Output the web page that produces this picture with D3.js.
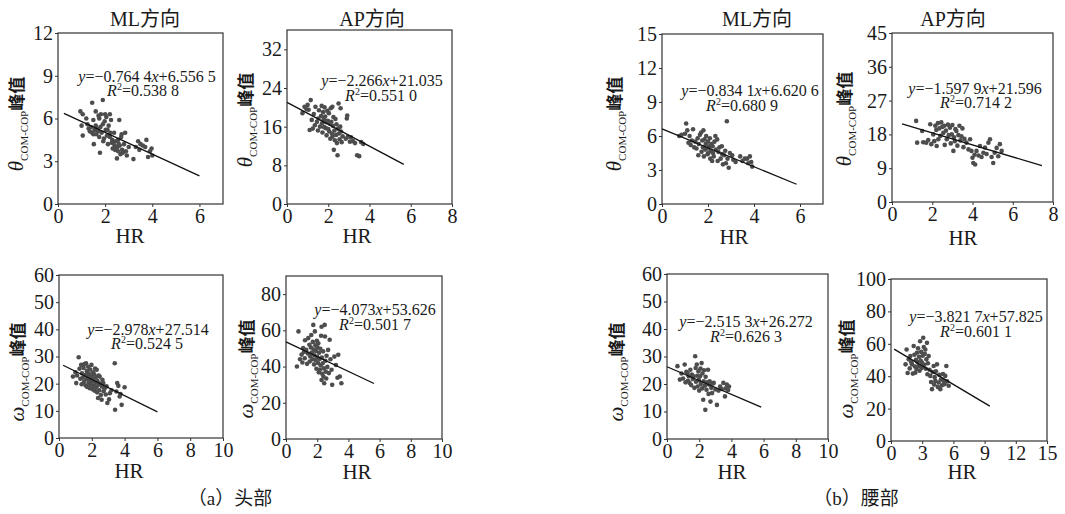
<!DOCTYPE html>
<html>
<head>
<meta charset="utf-8">
<script src="https://cdn.jsdelivr.net/npm/d3@7"></script>
<style>
  html, body { margin: 0; padding: 0; background: #fff; }
  svg text { font-family: "Liberation Serif", "Times New Roman", "Noto Sans CJK SC", serif; fill: #1a1a1a; }
</style>
</head>
<body>
<svg id="chart" width="1065" height="514"></svg>
<script>
// HR vs peak values (approx.)
var headThetaML = [[0.95,6.5],[1.05,6.3],[1.0,5.5],[1.05,4.8],[1.2,6.0],[1.25,5.6],[1.3,5.3],[1.35,5.1],[1.4,5.4],[1.45,7.1],[1.45,5.0],[1.5,5.9],[1.5,4.9],[1.52,4.2],[1.55,5.2],[1.6,6.5],[1.6,5.5],[1.62,4.9],[1.65,5.3],[1.7,5.1],[1.72,6.2],[1.75,6.0],[1.75,4.7],[1.78,3.6],[1.8,5.4],[1.82,6.3],[1.85,5.0],[1.9,7.3],[1.9,5.6],[1.92,4.4],[1.95,4.6],[1.98,5.8],[2.0,6.3],[2.02,5.2],[2.05,6.1],[2.08,4.8],[2.1,5.2],[2.12,4.2],[2.15,5.5],[2.2,6.3],[2.2,4.7],[2.22,5.0],[2.25,5.9],[2.28,4.3],[2.3,4.5],[2.32,3.9],[2.35,4.3],[2.38,5.0],[2.4,4.1],[2.42,3.8],[2.45,4.4],[2.48,3.9],[2.5,3.2],[2.52,4.0],[2.55,4.5],[2.55,3.7],[2.58,4.2],[2.6,5.9],[2.62,4.1],[2.65,3.5],[2.68,4.7],[2.7,4.9],[2.72,3.8],[2.75,3.6],[2.8,4.2],[2.85,5.0],[2.88,3.7],[2.92,3.4],[3.0,4.0],[3.2,3.15],[3.3,4.0],[3.4,4.4],[3.45,3.8],[3.5,4.2],[3.6,4.1],[3.7,4.0],[3.75,4.5],[3.82,3.3],[3.9,3.7],[3.97,3.9],[4.0,3.4]];
var headThetaAP = [[0.75,18.8],[0.85,20.1],[0.95,19.6],[1.0,20.5],[1.05,19.5],[1.1,15.3],[1.15,21.5],[1.2,17.4],[1.25,15.6],[1.3,18.6],[1.35,16.3],[1.38,20.1],[1.45,17.0],[1.5,15.2],[1.52,17.7],[1.55,19.4],[1.6,16.0],[1.65,18.2],[1.68,20.3],[1.7,16.7],[1.72,14.8],[1.75,19.0],[1.78,17.5],[1.8,15.9],[1.82,20.0],[1.85,18.1],[1.88,15.7],[1.9,16.9],[1.92,14.2],[1.95,19.3],[1.98,17.2],[2.0,15.5],[2.03,18.8],[2.05,15.0],[2.08,16.6],[2.1,13.5],[2.12,19.8],[2.15,17.0],[2.18,14.6],[2.2,20.1],[2.2,13.9],[2.22,16.2],[2.25,18.0],[2.27,11.2],[2.3,15.2],[2.32,13.2],[2.35,17.6],[2.38,14.3],[2.4,16.5],[2.42,12.6],[2.45,10.1],[2.48,15.6],[2.5,20.8],[2.52,14.6],[2.55,13.4],[2.58,16.0],[2.6,19.8],[2.62,15.0],[2.65,12.8],[2.7,14.0],[2.85,13.5],[2.9,17.7],[2.92,18.3],[2.95,13.9],[3.05,12.9],[3.1,13.8],[3.2,13.0],[3.3,12.6],[3.4,10.1],[3.5,9.9],[3.6,12.8],[3.7,12.4]];
var headOmegaML = [[0.85,22.6],[1.0,24.2],[1.05,20.2],[1.1,23.0],[1.2,29.7],[1.25,25.5],[1.3,21.8],[1.35,26.9],[1.38,19.8],[1.4,23.8],[1.45,22.2],[1.5,25.8],[1.52,20.6],[1.55,27.2],[1.6,23.2],[1.62,19.3],[1.65,27.5],[1.68,21.6],[1.7,24.6],[1.72,18.8],[1.75,22.8],[1.78,26.2],[1.8,20.2],[1.82,23.6],[1.85,21.2],[1.88,18.3],[1.9,25.2],[1.92,22.0],[1.95,19.6],[1.98,26.9],[2.0,23.0],[2.02,20.8],[2.05,17.9],[2.08,24.2],[2.1,21.6],[2.12,19.2],[2.15,23.4],[2.18,17.4],[2.2,25.6],[2.22,20.4],[2.25,22.4],[2.28,18.6],[2.3,25.1],[2.32,16.8],[2.35,21.0],[2.38,14.7],[2.4,19.6],[2.42,23.0],[2.45,17.6],[2.48,22.6],[2.5,20.0],[2.55,15.8],[2.6,14.1],[2.62,19.0],[2.65,21.4],[2.7,20.2],[2.72,17.2],[2.78,18.2],[2.85,16.0],[2.9,19.0],[2.95,12.9],[3.05,14.2],[3.1,16.5],[3.2,17.6],[3.4,27.5],[3.42,10.4],[3.5,17.1],[3.55,20.2],[3.62,19.2],[3.7,15.3],[3.75,16.2],[3.82,12.2],[4.0,18.7]];
var headOmegaAP = [[0.7,40.0],[0.8,59.4],[0.9,44.0],[1.0,46.6],[1.05,42.2],[1.1,50.2],[1.15,48.0],[1.2,44.6],[1.22,54.5],[1.3,49.2],[1.35,41.5],[1.4,47.2],[1.43,55.7],[1.5,52.0],[1.52,42.8],[1.55,45.6],[1.6,50.5],[1.62,57.4],[1.65,47.8],[1.7,44.0],[1.72,53.6],[1.75,63.0],[1.78,49.4],[1.8,41.2],[1.82,46.2],[1.85,59.4],[1.88,51.8],[1.9,43.6],[1.92,48.6],[1.95,38.8],[1.98,54.2],[2.0,45.4],[2.02,50.6],[2.05,42.0],[2.07,52.9],[2.1,36.8],[2.12,47.6],[2.15,44.2],[2.17,38.2],[2.2,49.8],[2.22,40.6],[2.25,57.0],[2.28,62.0],[2.28,32.6],[2.3,45.0],[2.32,36.0],[2.35,41.8],[2.38,48.4],[2.4,34.5],[2.42,39.0],[2.45,30.8],[2.48,63.0],[2.5,56.6],[2.52,43.2],[2.55,37.2],[2.58,33.4],[2.6,46.0],[2.65,39.8],[2.7,49.2],[2.75,36.4],[2.8,54.8],[2.85,44.0],[2.92,38.2],[2.96,29.9],[3.1,45.5],[3.2,40.9],[3.3,33.8],[3.35,46.5],[3.45,34.5],[3.55,30.8]];
var waistThetaML = [[0.75,6.0],[0.85,6.1],[1.0,6.2],[1.05,7.1],[1.1,6.5],[1.15,5.4],[1.2,6.0],[1.25,5.2],[1.3,5.6],[1.35,6.6],[1.4,5.0],[1.45,5.5],[1.5,4.9],[1.55,5.8],[1.58,4.3],[1.6,5.3],[1.65,6.1],[1.7,6.3],[1.72,4.6],[1.75,5.6],[1.78,5.0],[1.8,6.5],[1.82,4.2],[1.85,5.7],[1.88,4.8],[1.9,5.3],[1.92,6.0],[1.95,4.9],[1.98,4.4],[2.0,5.5],[2.02,4.5],[2.05,5.1],[2.08,5.8],[2.1,4.0],[2.12,4.7],[2.15,5.3],[2.18,3.8],[2.2,5.1],[2.22,4.5],[2.25,4.2],[2.28,5.5],[2.32,6.0],[2.35,4.8],[2.4,5.7],[2.42,3.8],[2.45,4.6],[2.5,5.0],[2.55,4.0],[2.6,5.1],[2.62,4.4],[2.65,3.5],[2.7,4.3],[2.75,4.7],[2.78,3.6],[2.82,7.3],[2.85,4.0],[2.9,3.2],[2.95,4.5],[3.05,4.3],[3.1,3.9],[3.2,3.7],[3.4,4.2],[3.5,3.8],[3.6,4.0],[3.7,4.0],[3.75,3.6],[3.82,4.2],[3.88,3.7],[3.92,3.3]];
var waistThetaAP = [[1.2,21.6],[1.25,15.8],[1.5,18.9],[1.55,15.9],[1.7,15.8],[1.8,16.5],[1.9,20.7],[1.95,15.4],[2.05,18.0],[2.1,16.2],[2.15,20.3],[2.2,19.2],[2.22,14.9],[2.28,21.0],[2.3,16.7],[2.35,19.6],[2.4,17.6],[2.45,21.2],[2.5,20.0],[2.55,18.4],[2.6,20.3],[2.62,15.2],[2.68,19.0],[2.72,16.7],[2.78,20.6],[2.82,17.8],[2.88,19.8],[2.92,15.6],[2.97,18.0],[3.0,20.5],[3.05,13.6],[3.08,17.2],[3.12,16.2],[3.15,19.4],[3.2,18.9],[3.25,15.0],[3.3,17.8],[3.35,20.3],[3.4,16.4],[3.45,17.5],[3.5,19.6],[3.55,14.6],[3.6,16.8],[3.7,15.8],[3.8,14.0],[3.88,16.7],[3.95,13.6],[4.0,11.8],[4.04,10.4],[4.1,12.6],[4.13,10.0],[4.2,13.6],[4.3,12.4],[4.37,14.9],[4.45,12.0],[4.54,13.1],[4.62,14.5],[4.7,12.8],[4.79,15.8],[4.87,16.7],[4.95,12.0],[5.03,10.4],[5.1,13.1],[5.2,14.4],[5.28,12.2],[5.36,15.4],[5.45,13.6]];
var waistOmegaML = [[0.65,26.5],[0.8,21.6],[0.9,23.8],[1.0,22.0],[1.1,27.1],[1.15,20.6],[1.2,24.4],[1.28,24.0],[1.3,21.2],[1.35,22.8],[1.4,20.4],[1.45,25.2],[1.5,19.6],[1.55,23.4],[1.6,21.8],[1.65,22.8],[1.7,18.6],[1.75,30.1],[1.78,25.8],[1.8,20.8],[1.85,27.1],[1.88,23.0],[1.9,19.1],[1.95,24.6],[1.98,21.4],[2.0,17.6],[2.05,22.8],[2.08,25.6],[2.1,20.0],[2.15,27.6],[2.18,18.4],[2.2,23.8],[2.25,14.3],[2.28,21.0],[2.3,25.0],[2.35,19.4],[2.38,10.6],[2.4,22.6],[2.45,17.9],[2.5,20.6],[2.55,25.2],[2.58,16.4],[2.6,19.8],[2.65,21.0],[2.7,13.6],[2.75,18.6],[2.8,16.7],[2.85,20.2],[2.9,20.4],[3.0,18.0],[3.1,12.4],[3.2,17.6],[3.3,19.1],[3.4,18.2],[3.5,20.4],[3.6,15.5],[3.65,18.4],[3.72,19.8],[3.8,17.8],[3.85,19.1]];
var waistOmegaAP = [[1.4,47.3],[1.5,56.5],[1.6,42.0],[1.7,50.4],[1.8,44.8],[1.86,52.4],[1.95,48.6],[2.02,47.3],[2.1,41.6],[2.18,58.6],[2.25,53.2],[2.3,46.0],[2.34,42.2],[2.4,50.2],[2.45,44.4],[2.5,54.5],[2.55,48.8],[2.6,57.2],[2.65,46.2],[2.7,52.0],[2.75,43.4],[2.8,61.6],[2.85,49.6],[2.9,55.0],[2.95,45.0],[2.98,48.4],[3.05,52.6],[3.1,63.7],[3.15,58.0],[3.2,47.0],[3.25,53.8],[3.3,56.5],[3.35,44.6],[3.4,50.4],[3.46,60.6],[3.5,41.2],[3.55,48.0],[3.62,52.4],[3.7,44.0],[3.78,40.2],[3.85,36.4],[3.94,32.0],[4.0,42.6],[4.1,46.3],[4.15,34.8],[4.2,39.4],[4.26,37.1],[4.32,43.0],[4.42,47.3],[4.5,33.4],[4.58,36.1],[4.65,40.8],[4.74,32.0],[4.8,38.0],[4.9,34.4],[5.0,41.4],[5.06,37.1],[5.15,35.0],[5.22,40.2],[5.32,46.3],[5.4,36.8],[5.55,34.1]];

// fitted lines, as printed on each panel
var slopes        = [-0.7644, -2.266, -2.978, -4.073, -0.8341, -1.5979, -2.5153, -3.8217];
var intercepts    = [6.5565, 21.035, 27.514, 53.626, 6.6206, 21.596, 26.272, 57.825];
var slopeText     = ["0.764 4", "2.266", "2.978", "4.073", "0.834 1", "1.597 9", "2.515 3", "3.821 7"];
var interceptText = ["6.556 5", "21.035", "27.514", "53.626", "6.620 6", "21.596", "26.272", "57.825"];
var r2Text        = ["0.538 8", "0.551 0", "0.524 5", "0.501 7", "0.680 9", "0.714 2", "0.626 3", "0.601 1"];
var fitRange      = [[0.25, 6], [0, 5.66], [0.25, 6], [0, 5.64], [0, 5.85], [0.5, 7.45], [0, 5.85], [0.3, 9.5]];

// axes
var xDomains = [[0, 7], [0, 8], [0, 10], [0, 10], [0, 7], [0, 8], [0, 10], [0, 15]];
var xTicks   = [[0, 2, 4, 6], [0, 2, 4, 6, 8], [0, 2, 4, 6, 8, 10], [0, 2, 4, 6, 8, 10],
                [0, 2, 4, 6], [0, 2, 4, 6, 8], [0, 2, 4, 6, 8, 10], [0, 3, 6, 9, 12, 15]];
var yDomains = [[0, 12], [0, 36], [0, 60], [0, 90], [0, 15], [0, 45], [0, 60], [0, 100]];
var yTicks   = [[0, 3, 6, 9, 12], [0, 8, 16, 24, 32], [0, 10, 20, 30, 40, 50, 60], [0, 20, 40, 60, 80],
                [0, 3, 6, 9, 12, 15], [0, 9, 18, 27, 36, 45], [0, 10, 20, 30, 40, 50, 60], [0, 20, 40, 60, 80, 100]];
var symbols  = ["θ", "θ", "ω", "ω", "θ", "θ", "ω", "ω"];
var titles   = ["ML方向", "AP方向", "", "", "ML方向", "AP方向", "", ""];
var captions = ["（a）头部", "（b）腰部"];

var series = [headThetaML, headThetaAP, headOmegaML, headOmegaAP,
              waistThetaML, waistThetaAP, waistOmegaML, waistOmegaAP];

// where each panel sits on the page
var layout = [
  {x0: 58,  x1: 223,  y0: 33,  y1: 204, eq: [147, 82, 143, 96],   hr: [130, 243], lab: [23, 124],  title: [145, 26]},
  {x0: 287, x1: 452,  y0: 30,  y1: 204, eq: [382, 86, 381, 101],  hr: [357, 243], lab: [252, 120], title: [372, 26]},
  {x0: 59,  x1: 223,  y0: 275, y1: 438, eq: [148, 335, 147, 349], hr: [129, 478], lab: [24, 372],  title: null},
  {x0: 286, x1: 442,  y0: 276, y1: 439, eq: [375, 315, 375, 330], hr: [357, 479], lab: [253, 369], title: null},
  {x0: 662, x1: 823,  y0: 34,  y1: 204, eq: [750, 96, 742, 111],  hr: [734, 244], lab: [621, 124], title: [757, 26]},
  {x0: 892, x1: 1053, y0: 33,  y1: 202, eq: [975, 94, 976, 108],  hr: [963, 245], lab: [851, 119], title: [953, 26]},
  {x0: 667, x1: 828,  y0: 274, y1: 439, eq: [746, 327, 746, 342], hr: [732, 479], lab: [623, 372], title: null},
  {x0: 891, x1: 1047, y0: 279, y1: 441, eq: [976, 322, 976, 337], hr: [962, 479], lab: [853, 369], title: null}
];
var captionPos = [[230, 505], [856, 505]];

var svg = d3.select("#chart");
var intFmt = d3.format("d");

function drawPanel(idx) {
  var L = layout[idx];
  var x = d3.scaleLinear().domain(xDomains[idx]).range([L.x0, L.x1]);
  var y = d3.scaleLinear().domain(yDomains[idx]).range([L.y1, L.y0]);
  var g = svg.append("g");

  var xAxis = g.append("g")
    .attr("transform", "translate(0," + L.y1 + ")")
    .call(d3.axisBottom(x).tickValues(xTicks[idx]).tickFormat(intFmt)
      .tickSize(3).tickSizeOuter(0).tickPadding(2));
  var yAxis = g.append("g")
    .attr("transform", "translate(" + L.x0 + ",0)")
    .call(d3.axisLeft(y).tickValues(yTicks[idx]).tickFormat(intFmt)
      .tickSize(3).tickSizeOuter(0).tickPadding(2));

  [xAxis, yAxis].forEach(function (ax) {
    ax.select(".domain").remove();
    ax.selectAll("line").attr("stroke", "#333");
    ax.selectAll("text").style("font-size", "20px").attr("fill", "#1a1a1a");
  });

  // frame
  g.append("rect")
    .attr("x", L.x0).attr("y", L.y0)
    .attr("width", L.x1 - L.x0).attr("height", L.y1 - L.y0)
    .attr("fill", "none").attr("stroke", "#333").attr("stroke-width", 1.2);

  // points
  g.selectAll("circle").data(series[idx]).enter().append("circle")
    .attr("cx", function (d) { return x(d[0]); })
    .attr("cy", function (d) { return y(d[1]); })
    .attr("r", 2.3)
    .attr("fill", "#4d4d4d");

  // trend line
  var fx = fitRange[idx];
  g.append("line")
    .attr("x1", x(fx[0])).attr("y1", y(slopes[idx] * fx[0] + intercepts[idx]))
    .attr("x2", x(fx[1])).attr("y2", y(slopes[idx] * fx[1] + intercepts[idx]))
    .attr("stroke", "#111").attr("stroke-width", 1.3);

  // equation
  var eq = g.append("text").attr("x", L.eq[0]).attr("y", L.eq[1])
    .attr("text-anchor", "middle").style("font-size", "16px").attr("fill", "#333");
  eq.append("tspan").attr("font-style", "italic").text("y");
  eq.append("tspan").text("=\u2212" + slopeText[idx]);
  eq.append("tspan").attr("font-style", "italic").text("x");
  eq.append("tspan").text("+" + interceptText[idx]);

  var r2 = g.append("text").attr("x", L.eq[2]).attr("y", L.eq[3])
    .attr("text-anchor", "middle").style("font-size", "16px").attr("fill", "#333");
  r2.append("tspan").attr("font-style", "italic").text("R");
  r2.append("tspan").attr("dy", -6).style("font-size", "10px").text("2");
  r2.append("tspan").attr("dy", 6).text("=" + r2Text[idx]);

  // x label
  g.append("text").attr("x", L.hr[0]).attr("y", L.hr[1])
    .attr("text-anchor", "middle").style("font-size", "21px").text("HR");

  // y label: symbol, subscript, 峰值
  var yl = g.append("text")
    .attr("transform", "translate(" + L.lab[0] + "," + L.lab[1] + ") rotate(-90)")
    .attr("text-anchor", "middle");
  yl.append("tspan").attr("font-style", "italic").style("font-size", "21px").text(symbols[idx]);
  yl.append("tspan").attr("dy", 5).style("font-size", "11px").text("COM-COP");
  yl.append("tspan").attr("dy", -5)
    .style("font-family", "'Noto Sans CJK SC', sans-serif").style("font-weight", "bold")
    .style("font-size", "17px").text("峰值");

  if (L.title) {
    g.append("text").attr("x", L.title[0]).attr("y", L.title[1])
      .attr("text-anchor", "middle").style("font-size", "20px").text(titles[idx]);
  }
}

series.forEach(function (s, idx) { drawPanel(idx); });

captions.forEach(function (c, i) {
  svg.append("text").attr("x", captionPos[i][0]).attr("y", captionPos[i][1])
    .attr("text-anchor", "middle").style("font-size", "19px").text(c);
});
</script>
</body>
</html>
